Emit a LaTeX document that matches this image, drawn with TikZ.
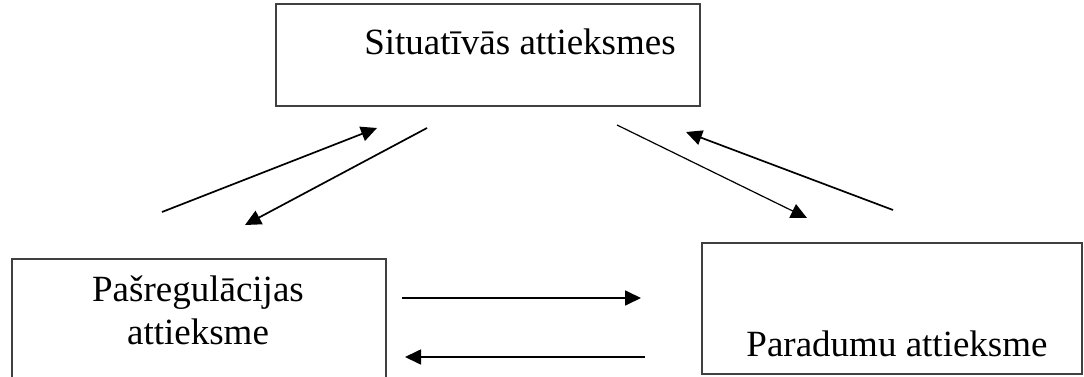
\documentclass[tikz,border=0pt]{standalone}
\usepackage{fontspec}
\setmainfont{Liberation Serif}
\usetikzlibrary{arrows.meta}
\begin{document}
\begin{tikzpicture}[x=1pt,y=-1pt,
 box/.style={draw=black!75, line width=1.8pt, inner sep=0pt, anchor=north west},
 lbl/.style={font=\fontsize{37}{43}\selectfont, inner sep=0pt, anchor=base},
 arr/.style={-{Triangle[length=16pt,width=15pt]}, line width=1.7pt},
 thinarr/.style={arr, line width=1.2pt}]
\useasboundingbox (0,0) rectangle (1084,377);
\clip (0,0) rectangle (1084,377);
% boxes
\node[box, minimum width=424pt, minimum height=102pt] (sit) at (275,3) {};
\node[box, minimum width=374pt, minimum height=140pt] (pas) at (11,258) {};
\node[box, minimum width=380pt, minimum height=131pt] (par) at (701,242) {};
% labels
\node[lbl] (sitt) at (520,55) {Situatīvās attieksmes};
\node[lbl] (past1) at (198,301) {Pašregulācijas};
\node[lbl] (past2) at (198,344) {attieksme};
\node[lbl] (part) at (897,356) {Paradumu attieksme};
% connector end points
\coordinate (a1s) at (162,212); \coordinate (a1e) at (377,128);
\coordinate (a2s) at (427,128); \coordinate (a2e) at (245,225);
\coordinate (a3s) at (617,125); \coordinate (a3e) at (807,218);
\coordinate (a4s) at (893,210); \coordinate (a4e) at (686,132);
\coordinate (a5s) at (402,298); \coordinate (a5e) at (641,298);
\coordinate (a6s) at (645,357); \coordinate (a6e) at (405,357);
% connectors
\draw[arr] (a1s) -- (a1e);
\draw[arr] (a2s) -- (a2e);
\draw[thinarr] (a3s) -- (a3e);
\draw[arr] (a4s) -- (a4e);
\draw[arr] (a5s) -- (a5e);
\draw[arr] (a6s) -- (a6e);
\end{tikzpicture}
\end{document}
